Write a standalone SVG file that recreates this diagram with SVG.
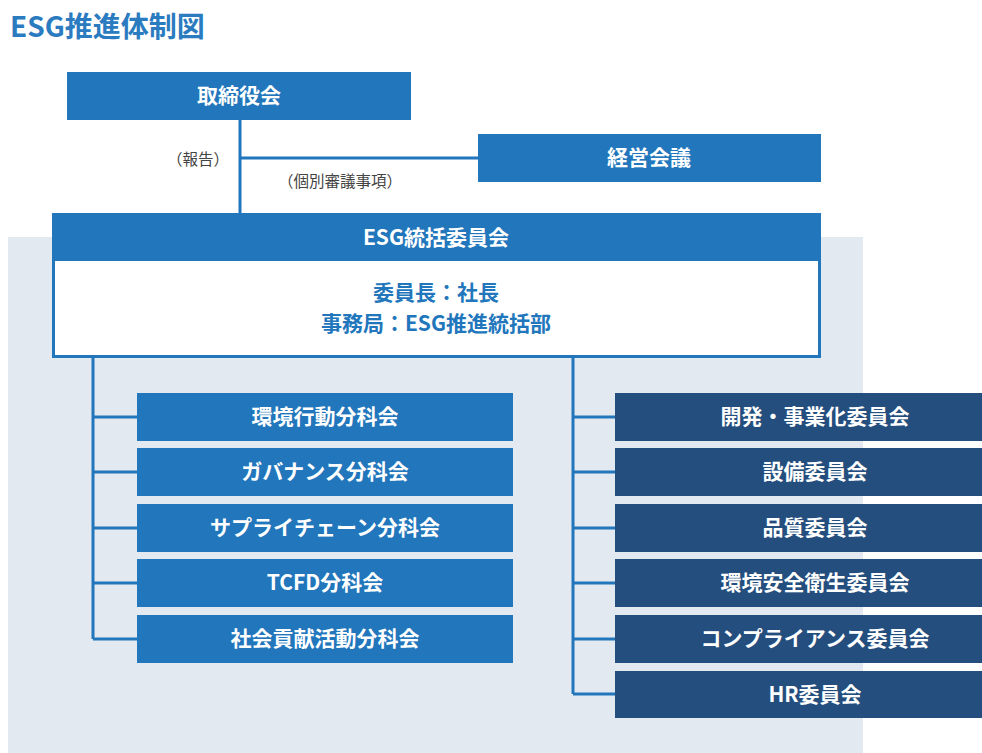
<svg xmlns="http://www.w3.org/2000/svg" width="982" height="753" viewBox="0 0 982 753">
<style>
text{font-family:"Noto Sans CJK JP","Noto Sans",sans-serif;}
.t{fill:#ffffff;font-size:21px;font-weight:700;text-anchor:middle;}
.b{fill:#2176bc;}
.d{fill:#244e7e;}
.ln{stroke:#2176bc;stroke-width:3;fill:none;}
.lb{fill:#444444;font-size:15.5px;}
</style>
<rect width="982" height="753" fill="#ffffff"/>
<text x="10" y="37" font-size="28" font-weight="700" fill="#2b7bc0">ESG推進体制図</text>
<rect x="8" y="237" width="855" height="516" fill="#e2e9f1"/>
<g id="connectors">
<path class="ln" d="M240 120V213M240 158H478"/>
<path class="ln" d="M93 357V639M93 417H137M93 472H137M93 528H137M93 583H137M93 639H137"/>
<path class="ln" d="M573 357V694M573 417H615M573 472H615M573 528H615M573 583H615M573 639H615M573 694H615"/>
</g>
<text class="lb" x="198" y="165" text-anchor="middle">（報告）</text>
<text class="lb" x="340" y="187" text-anchor="middle">（個別審議事項）</text>
<g id="board"><rect class="b" x="67" y="72" width="344" height="48"/><text class="t" x="239" y="103">取締役会</text></g>
<g id="mgmt"><rect class="b" x="478" y="134" width="343" height="48"/><text class="t" x="649" y="165">経営会議</text></g>
<g id="esg">
<rect x="53.5" y="214.5" width="766" height="142" fill="#ffffff" stroke="#2176bc" stroke-width="3"/>
<rect class="b" x="52" y="213" width="769" height="48"/>
<text class="t" x="436" y="245" font-size="22">ESG統括委員会</text>
<text x="436" y="300" font-size="21" font-weight="700" fill="#2176bc" text-anchor="middle">委員長：社長</text>
<text x="436" y="331" font-size="21" font-weight="700" fill="#2176bc" text-anchor="middle">事務局：ESG推進統括部</text>
</g>
<g id="l1"><rect class="b" x="137" y="393" width="376" height="48"/><text class="t" x="325" y="424">環境行動分科会</text></g>
<g id="l2"><rect class="b" x="137" y="448" width="376" height="48"/><text class="t" x="325" y="479">ガバナンス分科会</text></g>
<g id="l3"><rect class="b" x="137" y="504" width="376" height="48"/><text class="t" x="325" y="535">サプライチェーン分科会</text></g>
<g id="l4"><rect class="b" x="137" y="559" width="376" height="48"/><text class="t" x="325" y="590">TCFD分科会</text></g>
<g id="l5"><rect class="b" x="137" y="615" width="376" height="48"/><text class="t" x="325" y="646">社会貢献活動分科会</text></g>
<g id="r1"><rect class="d" x="615" y="393" width="367" height="48"/><text class="t" x="815" y="424">開発・事業化委員会</text></g>
<g id="r2"><rect class="d" x="615" y="448" width="367" height="48"/><text class="t" x="815" y="479">設備委員会</text></g>
<g id="r3"><rect class="d" x="615" y="504" width="367" height="48"/><text class="t" x="815" y="535">品質委員会</text></g>
<g id="r4"><rect class="d" x="615" y="559" width="367" height="48"/><text class="t" x="815" y="590">環境安全衛生委員会</text></g>
<g id="r5"><rect class="d" x="615" y="615" width="367" height="48"/><text class="t" x="815" y="646">コンプライアンス委員会</text></g>
<g id="r6"><rect class="d" x="615" y="671" width="367" height="47"/><text class="t" x="815" y="702">HR委員会</text></g>
</svg>
